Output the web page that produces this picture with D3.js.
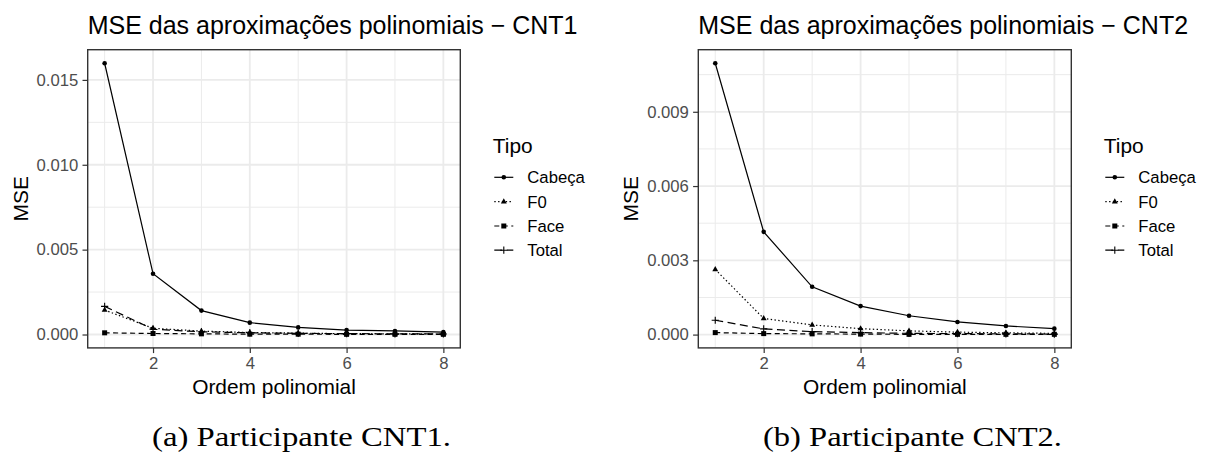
<!DOCTYPE html>
<html>
<head>
<meta charset="utf-8">
<script src="https://cdn.jsdelivr.net/npm/d3@7"></script>
<style>
  body { margin: 0; background: #fff; }
  svg text { font-family: "Liberation Sans", Arial, sans-serif; }
</style>
</head>
<body>
<svg id="chart" width="1208" height="458"></svg>
<script>
// ordem polinomial (eixo x)
var ordens = [1, 2, 3, 4, 5, 6, 7, 8];
var tipos = ["Cabeça", "F0", "Face", "Total"];

// MSE - participante CNT1
var cnt1Cabeca = [0.01598, 0.00358, 0.00141, 0.00070, 0.00042, 0.00026, 0.00021, 0.00014];
var cnt1F0     = [0.00144, 0.00037, 0.00020, 0.00012, 0.00008, 0.00005, 0.00004, 0.00003];
var cnt1Face   = [0.00010, 0.00006, 0.00004, 0.00002, 0.00002, 0.00001, 0.00001, 0.00001];
var cnt1Total  = [0.00166, 0.00031, 0.00016, 0.00010, 0.00007, 0.00005, 0.00004, 0.00003];

// MSE - participante CNT2
var cnt2Cabeca = [0.01096, 0.00415, 0.00193, 0.00115, 0.00076, 0.00051, 0.00035, 0.00024];
var cnt2F0     = [0.00263, 0.00065, 0.00039, 0.00024, 0.00015, 0.00010, 0.00007, 0.00005];
var cnt2Face   = [0.00008, 0.00004, 0.00003, 0.00002, 0.00001, 0.00001, 0.00001, 0.00001];
var cnt2Total  = [0.00058, 0.00023, 0.00012, 0.00008, 0.00005, 0.00004, 0.00003, 0.00002];

var xTicks = [2, 4, 6, 8];
var xMinor = [1, 3, 5, 7];
var cnt1Ticks = [0, 0.005, 0.010, 0.015];
var cnt1Minor = [0.0025, 0.0075, 0.0125];
var cnt2Ticks = [0, 0.003, 0.006, 0.009];
var cnt2Minor = [0.0015, 0.0045, 0.0075, 0.0105];

var dashes = { "Cabeça": null, "F0": "1.4,2.4", "Face": "5,3.5", "Total": "8,4.5" };

var svg = d3.select("#chart");

function drawShape(g, tipo, x, y) {
    if (tipo == "Cabeça") {
        g.append("circle").attr("cx", x).attr("cy", y).attr("r", 2.3).attr("fill", "#000");
    } else if (tipo == "F0") {
        g.append("path").attr("d", d3.symbol(d3.symbolTriangle, 15)())
            .attr("transform", "translate(" + x + "," + y + ")").attr("fill", "#000");
    } else if (tipo == "Face") {
        g.append("rect").attr("x", x - 2.5).attr("y", y - 2.5)
            .attr("width", 5).attr("height", 5).attr("fill", "#000");
    } else {
        g.append("path").attr("d", "M" + (x - 3.6) + "," + y + "H" + (x + 3.6) + "M" + x + "," + (y - 3.6) + "V" + (y + 3.6))
            .attr("stroke", "#000").attr("stroke-width", 1.1).attr("fill", "none");
    }
}

function drawPanel(left, right, title, series, yTicks, yMinor, caption, captionX) {
    var top = 49.7, bottom = 347.9;
    var g = svg.append("g");

    var all = [].concat(series[0], series[1], series[2], series[3]);
    var lo = d3.min(all), hi = d3.max(all), pad = (hi - lo) * 0.05;

    var x = d3.scaleLinear().domain([1 - 0.35, 8 + 0.35]).range([left, right]);
    var y = d3.scaleLinear().domain([lo - pad, hi + pad]).range([bottom, top]);

    // grid
    g.selectAll(".gx-min").data(xMinor).enter().append("line")
        .attr("x1", d => x(d)).attr("x2", d => x(d)).attr("y1", top).attr("y2", bottom)
        .attr("stroke", "#EBEBEB").attr("stroke-width", 1);
    g.selectAll(".gy-min").data(yMinor).enter().append("line")
        .attr("x1", left).attr("x2", right).attr("y1", d => y(d)).attr("y2", d => y(d))
        .attr("stroke", "#EBEBEB").attr("stroke-width", 1);
    g.selectAll(".gx").data(xTicks).enter().append("line")
        .attr("x1", d => x(d)).attr("x2", d => x(d)).attr("y1", top).attr("y2", bottom)
        .attr("stroke", "#EBEBEB").attr("stroke-width", 1.8);
    g.selectAll(".gy").data(yTicks).enter().append("line")
        .attr("x1", left).attr("x2", right).attr("y1", d => y(d)).attr("y2", d => y(d))
        .attr("stroke", "#EBEBEB").attr("stroke-width", 1.8);

    // series
    var line = d3.line().x((d, i) => x(ordens[i])).y(d => y(d));
    tipos.forEach((tipo, k) => {
        g.append("path").datum(series[k]).attr("d", line)
            .attr("fill", "none").attr("stroke", "#000").attr("stroke-width", 1.2)
            .attr("stroke-dasharray", dashes[tipo]);
        series[k].forEach((v, i) => drawShape(g, tipo, x(ordens[i]), y(v)));
    });

    // border
    g.append("rect").attr("x", left).attr("y", top)
        .attr("width", right - left).attr("height", bottom - top)
        .attr("fill", "none").attr("stroke", "#333333").attr("stroke-width", 1.4);

    // axes
    var yAxis = d3.axisLeft(y).tickValues(yTicks).tickFormat(d3.format(".3f")).tickSize(5.2).tickPadding(4.2);
    var ay = g.append("g").attr("transform", "translate(" + left + ",0)").call(yAxis);
    var xAxis = d3.axisBottom(x).tickValues(xTicks).tickFormat(d3.format("d")).tickSize(5.2).tickPadding(4.2);
    var ax = g.append("g").attr("transform", "translate(0," + bottom + ")").call(xAxis);
    [ay, ax].forEach(a => {
        a.select(".domain").remove();
        a.selectAll(".tick line").attr("stroke", "#333333").attr("stroke-width", 1.2);
        a.selectAll(".tick text").attr("fill", "#4D4D4D").style("font-size", "16.7px")
            .style("font-family", "'Liberation Sans', Arial, sans-serif");
    });

    // titles
    g.append("text").attr("x", left).attr("y", 33.5).text(title)
        .style("font-size", "25px").attr("fill", "#000");
    g.append("text").attr("x", (left + right) / 2).attr("y", 394.3)
        .attr("text-anchor", "middle").text("Ordem polinomial")
        .style("font-size", "20.9px").attr("fill", "#000");
    g.append("text").attr("transform", "translate(" + (left - 60) + "," + ((top + bottom) / 2) + ") rotate(-90)")
        .attr("text-anchor", "middle").text("MSE")
        .style("font-size", "20.9px").attr("fill", "#000");

    // legend
    var kx = right + 34;
    g.append("text").attr("x", kx - 1.5).attr("y", 152.7).text("Tipo")
        .style("font-size", "20.9px").attr("fill", "#000");
    var rows = [177.3, 201.7, 226, 250.2];
    tipos.forEach((tipo, k) => {
        var ry = rows[k];
        g.append("line").attr("x1", kx).attr("x2", kx + 19).attr("y1", ry).attr("y2", ry)
            .attr("stroke", "#000").attr("stroke-width", 1.2).attr("stroke-dasharray", dashes[tipo]);
        drawShape(g, tipo, kx + 9.5, ry);
        g.append("text").attr("x", kx + 33).attr("y", ry).attr("dy", "0.36em").text(tipo)
            .style("font-size", "16.7px").attr("fill", "#000");
    });

    // caption
    g.append("text").attr("x", captionX).attr("y", 446).attr("text-anchor", "middle")
        .attr("textLength", 299).attr("lengthAdjust", "spacingAndGlyphs")
        .style("font-family", "'Liberation Serif', 'Times New Roman', serif")
        .style("font-size", "27px").attr("fill", "#000").text(caption);
}

drawPanel(87.7, 460.3, "MSE das aproximações polinomiais − CNT1",
    [cnt1Cabeca, cnt1F0, cnt1Face, cnt1Total], cnt1Ticks, cnt1Minor, "(a) Participante CNT1.", 301.5);
drawPanel(698.3, 1071.3, "MSE das aproximações polinomiais − CNT2",
    [cnt2Cabeca, cnt2F0, cnt2Face, cnt2Total], cnt2Ticks, cnt2Minor, "(b) Participante CNT2.", 912.5);
</script>
</body>
</html>
